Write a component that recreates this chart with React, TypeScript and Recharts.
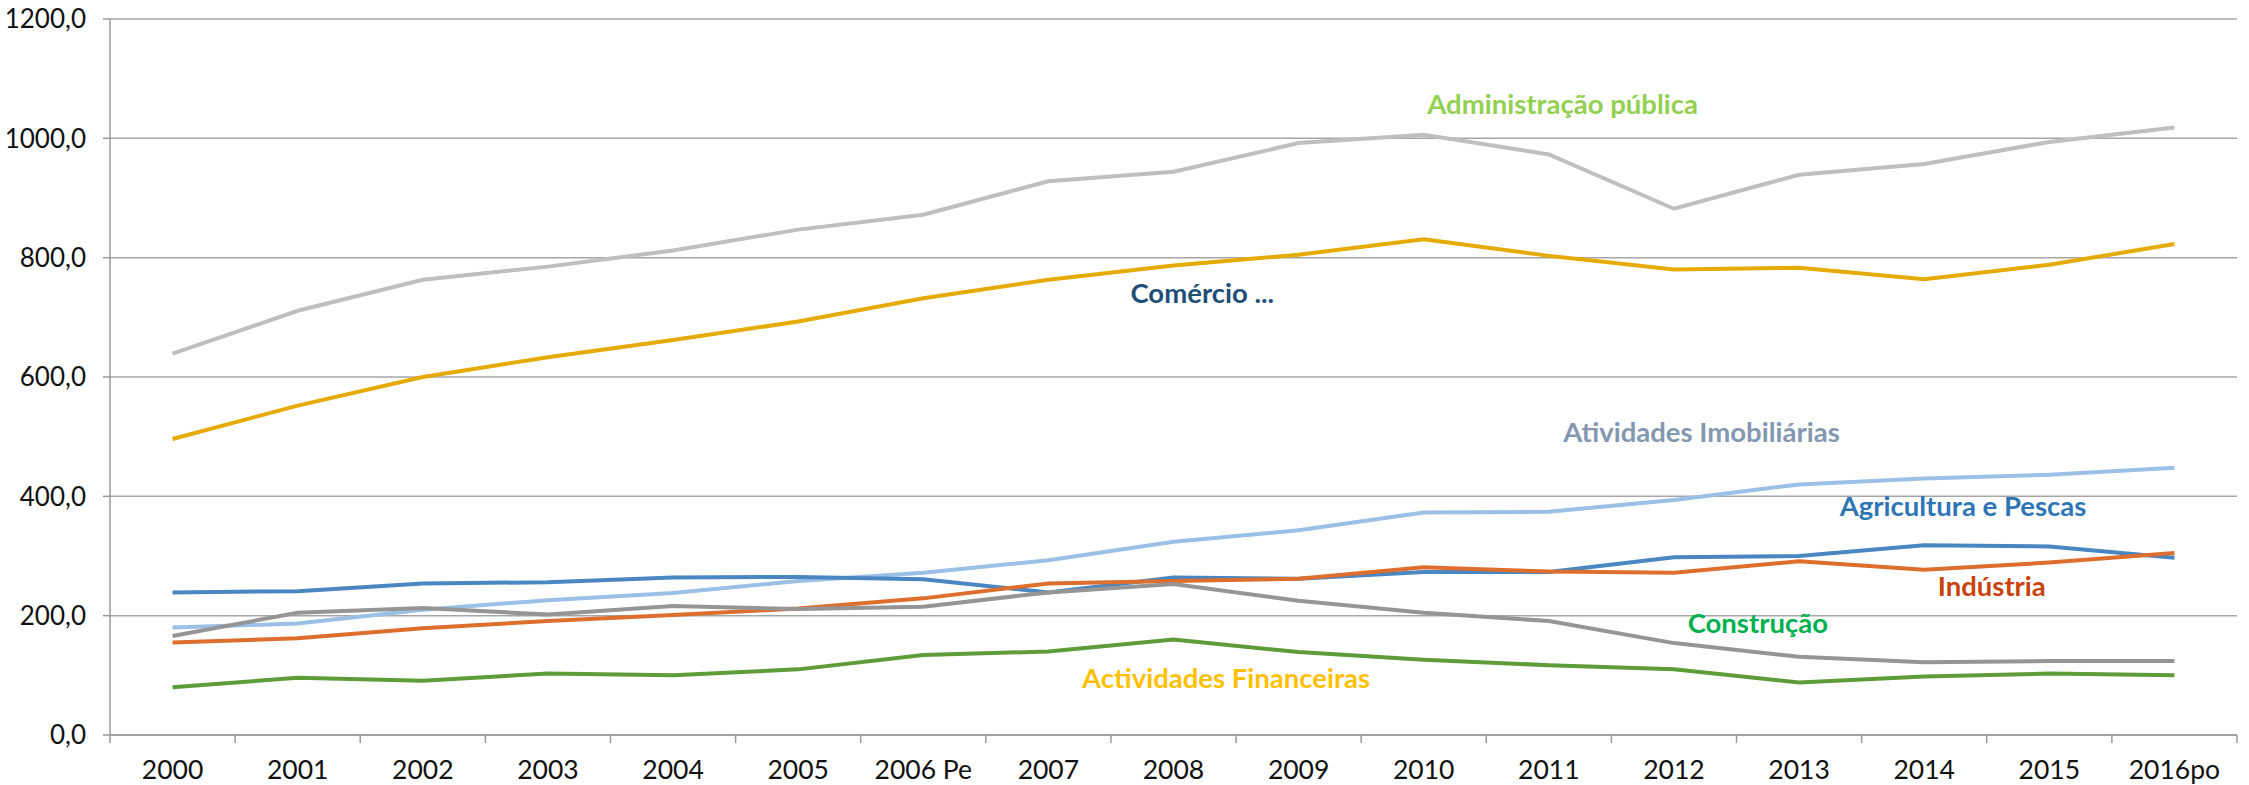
import { CartesianGrid, Line, LineChart, ReferenceDot, XAxis, YAxis } from 'recharts';

const anos = ['2000', '2001', '2002', '2003', '2004', '2005', '2006 Pe', '2007', '2008', '2009', '2010', '2011', '2012', '2013', '2014', '2015', '2016po'];

const administracao = [639, 711, 763, 785, 812, 847, 872, 928, 944, 992, 1006, 973, 882, 939, 957, 994, 1018];
const comercio = [496, 552, 600, 633, 662, 693, 732, 763, 787, 805, 831, 803, 780, 783, 764, 788, 823];
const imobiliarias = [180, 187, 210, 226, 238, 258, 272, 293, 324, 343, 373, 374, 394, 420, 430, 436, 448];
const agricultura = [239, 241, 254, 256, 264, 265, 261, 239, 264, 262, 273, 273, 298, 300, 318, 316, 297];
const industria = [155, 162, 179, 191, 201, 212, 229, 254, 258, 262, 281, 274, 272, 291, 277, 289, 305];
const construcao = [166, 205, 213, 202, 216, 211, 215, 239, 253, 225, 205, 191, 154, 131, 122, 124, 124];
const financeiras = [80, 96, 91, 103, 100, 110, 134, 140, 160, 139, 126, 117, 110, 88, 98, 103, 100];

const yTicks = [0, 200, 400, 600, 800, 1000, 1200];

// rótulos soltos no gráfico (posição em coordenadas dos dados)
const rotulos = [
  { texto: 'Administração pública', x: 11.11, y: 1058, cor: '#92D050' },
  { texto: 'Comércio ...', x: 8.23, y: 741, cor: '#1F4E79' },
  { texto: 'Atividades Imobiliárias', x: 12.22, y: 508, cor: '#8497B0' },
  { texto: 'Agricultura e Pescas', x: 14.31, y: 384, cor: '#2E75B6' },
  { texto: 'Indústria', x: 14.54, y: 250, cor: '#C9420A' },
  { texto: 'Construção', x: 12.67, y: 188, cor: '#00B050' },
  { texto: 'Actividades Financeiras', x: 8.42, y: 96, cor: '#FFC000' },
];

const series = [
  { key: 'administracao', cor: '#BFBFBF' },
  { key: 'comercio', cor: '#E6AB02' },
  { key: 'imobiliarias', cor: '#9AC0E6' },
  { key: 'agricultura', cor: '#4A86C1' },
  { key: 'industria', cor: '#DE6E2E' },
  { key: 'construcao', cor: '#959595' },
  { key: 'financeiras', cor: '#5E9C3A' },
];

const data = anos.map((ano, i) => ({
  idx: i,
  ano,
  administracao: administracao[i],
  comercio: comercio[i],
  imobiliarias: imobiliarias[i],
  agricultura: agricultura[i],
  industria: industria[i],
  construcao: construcao[i],
  financeiras: financeiras[i],
}));

// ticks nas fronteiras das categorias (x.5) e rótulos nos centros
const xTicks: number[] = [];
for (let i = -1; i < anos.length; i++) {
  xTicks.push(i + 0.5);
  if (i + 1 < anos.length) xTicks.push(i + 1);
}

const FONT = 'Lato, "Liberation Sans", sans-serif';
const AXIS = '#9A9A9A';

function XTick(props: any) {
  const { x, y, payload } = props;
  const v = payload.value as number;
  if (!Number.isInteger(v)) {
    return <line x1={x} x2={x} y1={y} y2={y + 8} stroke={AXIS} strokeWidth={1.5} />;
  }
  return (
    <text x={x} y={y + 44} textAnchor="middle" fill="#111" fontSize={26.5} fontFamily={FONT}>
      {anos[v]}
    </text>
  );
}

export default function App() {
  return (
    <div style={{ position: 'absolute', left: 0, top: 0, background: '#fff' }}>
      <LineChart width={2249} height={785} data={data} margin={{ top: 19, right: 12, bottom: 0, left: 0 }}>
        <CartesianGrid vertical={false} stroke="#A6A6A6" strokeWidth={1.5} />
        <XAxis
          dataKey="idx"
          type="number"
          domain={[-0.5, 16.5]}
          ticks={xTicks}
          interval={0}
          tickLine={false}
          tickSize={0}
          tickMargin={0}
          tick={<XTick />}
          axisLine={{ stroke: AXIS, strokeWidth: 1.5 }}
          height={50}
        />
        <YAxis
          domain={[0, 1200]}
          ticks={yTicks}
          width={110}
          tickSize={7}
          tickMargin={17}
          tickLine={{ stroke: AXIS, strokeWidth: 1.5 }}
          axisLine={{ stroke: AXIS, strokeWidth: 1.5 }}
          tick={{ fill: '#111', fontSize: 26, fontFamily: FONT }}
          tickFormatter={(v: number) => v.toFixed(1).replace('.', ',')}
        />
        {series.map((s) => (
          <Line
            key={s.key}
            dataKey={s.key}
            type="linear"
            stroke={s.cor}
            strokeWidth={4}
            dot={false}
            isAnimationActive={false}
          />
        ))}
        {rotulos.map((r) => (
          <ReferenceDot
            key={r.texto}
            x={r.x}
            y={r.y}
            r={0}
            fill="none"
            stroke="none"
            label={{
              content: (p: any) => (
                <text
                  x={p.viewBox.x + (p.viewBox.width || 0) / 2}
                  y={p.viewBox.y + (p.viewBox.height || 0) / 2}
                  textAnchor="middle"
                  dominantBaseline="central"
                  fill={r.cor}
                  fontSize={27.5}
                  fontWeight="bold"
                  fontFamily={FONT}
                >
                  {r.texto}
                </text>
              ),
            }}
          />
        ))}
      </LineChart>
    </div>
  );
}
